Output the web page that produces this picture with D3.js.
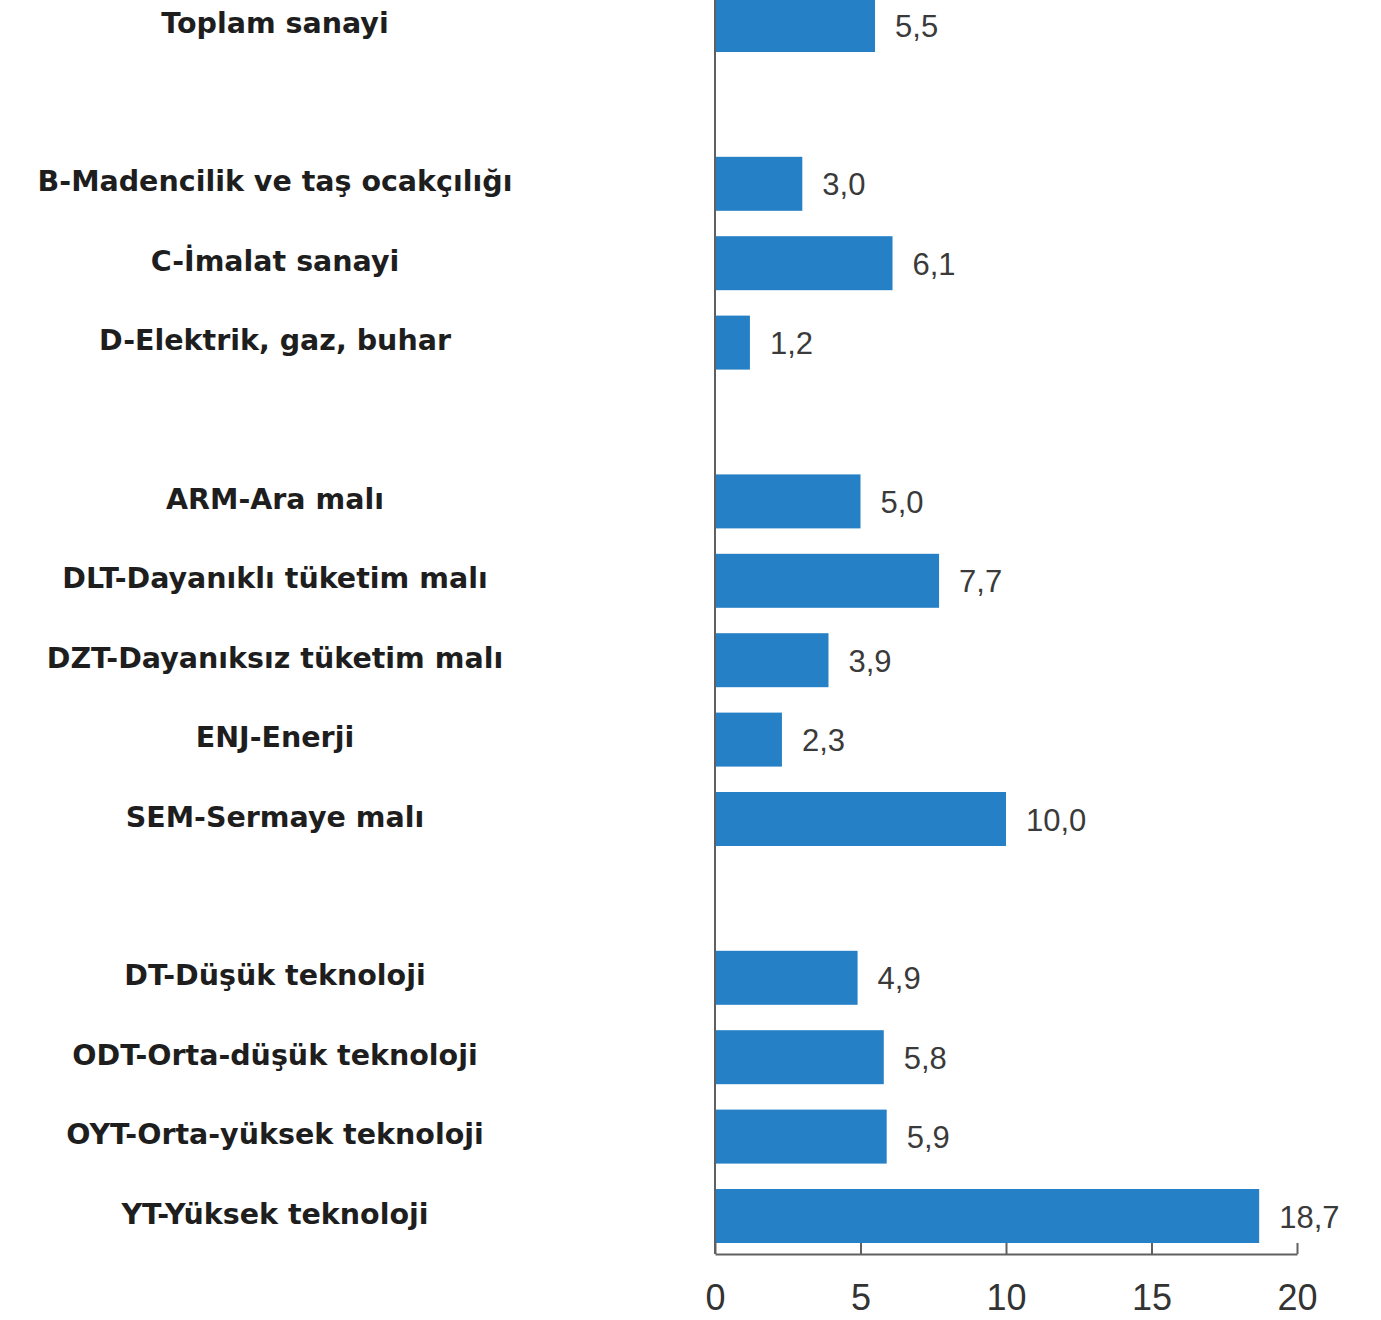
<!DOCTYPE html>
<html>
<head>
<meta charset="utf-8">
<script src="https://cdn.jsdelivr.net/npm/d3@7"></script>
<style>
  body { margin: 0; background: #fff; }
  svg { display: block; }
</style>
</head>
<body>
<div id="chart"></div>
<script>
// Category groups (an empty slot is left between groups)
const groupTotal = ["Toplam sanayi"];
const groupSections = ["B-Madencilik ve taş ocakçılığı", "C-İmalat sanayi", "D-Elektrik, gaz, buhar"];
const groupMIG = ["ARM-Ara malı", "DLT-Dayanıklı tüketim malı", "DZT-Dayanıksız tüketim malı", "ENJ-Enerji", "SEM-Sermaye malı"];
const groupTech = ["DT-Düşük teknoloji", "ODT-Orta-düşük teknoloji", "OYT-Orta-yüksek teknoloji", "YT-Yüksek teknoloji"];

// Values (%), same order as the groups
const valuesTotal = [5.5];
const valuesSections = [3.0, 6.1, 1.2];
const valuesMIG = [5.0, 7.7, 3.9, 2.3, 10.0];
const valuesTech = [4.9, 5.8, 5.9, 18.7];

const xTicks = [0, 5, 10, 15, 20];

function renderChart() {
    const W = 1381, H = 1320;
    const groups = [
        [groupTotal, valuesTotal],
        [groupSections, valuesSections],
        [groupMIG, valuesMIG],
        [groupTech, valuesTech]
    ];

    // Build slot domain with spacer slots between groups
    const domain = [];
    const data = [];
    groups.forEach(([cats, vals], gi) => {
        if (gi > 0) domain.push("__gap" + gi);
        cats.forEach((c, i) => {
            domain.push(c);
            data.push({ name: c, value: vals[i] });
        });
    });

    const svg = d3.select("#chart").append("svg")
        .attr("width", W)
        .attr("height", H);

    const x = d3.scaleLinear().domain([0, 20]).range([715, 1297]);
    const y = d3.scaleBand()
        .domain(domain)
        .range([-14.7, 1255.7])
        .paddingInner(0.32)
        .paddingOuter(0.16);

    const axisY = 1254;
    const axisColor = "#606060";

    // Bars
    svg.append("g").selectAll("rect")
        .data(data)
        .join("rect")
        .attr("x", x(0))
        .attr("y", d => y(d.name))
        .attr("width", d => x(d.value) - x(0))
        .attr("height", y.bandwidth())
        .attr("fill", "#2680c6");

    // Vertical axis line
    svg.append("line")
        .attr("x1", x(0)).attr("x2", x(0))
        .attr("y1", 0).attr("y2", axisY)
        .attr("stroke", axisColor)
        .attr("stroke-width", 2);

    // Bottom axis, ticks pointing up
    const xAxis = svg.append("g")
        .attr("transform", `translate(0,${axisY})`)
        .call(d3.axisBottom(x).tickValues(xTicks).tickSize(-11).tickSizeOuter(0).tickPadding(30));
    xAxis.select(".domain").attr("stroke", axisColor).attr("stroke-width", 2);
    xAxis.selectAll(".tick line").attr("stroke", axisColor).attr("stroke-width", 2);
    xAxis.selectAll(".tick text")
        .attr("fill", "#333")
        .style("font-family", "'Liberation Sans', Arial, sans-serif")
        .style("font-size", "36px");

    // Category labels
    svg.append("g").selectAll("text")
        .data(data)
        .join("text")
        .attr("x", 275)
        .attr("y", d => y(d.name) + y.bandwidth() / 2 - 2)
        .attr("text-anchor", "middle")
        .attr("dominant-baseline", "central")
        .attr("fill", "#1e1e1e")
        .style("font-family", "'DejaVu Sans', Verdana, sans-serif")
        .style("font-weight", "bold")
        .style("font-size", "28.5px")
        .text(d => d.name);

    // Value labels
    const fmt = v => v.toFixed(1).replace(".", ",");
    svg.append("g").selectAll("text")
        .data(data)
        .join("text")
        .attr("x", d => x(d.value) + 20)
        .attr("y", d => y(d.name) + y.bandwidth() / 2 + 1)
        .attr("dominant-baseline", "central")
        .attr("fill", "#3a3a3a")
        .style("font-family", "'Liberation Sans', Arial, sans-serif")
        .style("font-size", "31px")
        .text(d => fmt(d.value));
}

document.addEventListener("DOMContentLoaded", renderChart);
</script>
</body>
</html>
